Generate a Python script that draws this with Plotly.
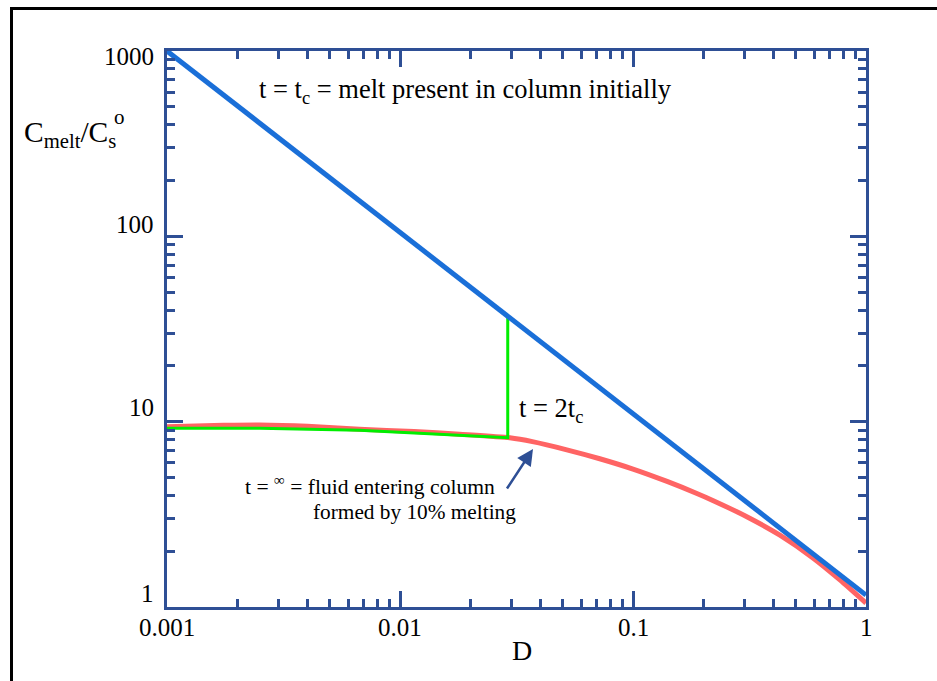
import numpy as np
import plotly.graph_objects as go

# ---------------- data ----------------
blue_D = [0.001, 1.0]
blue_C = [1000.0, 1.16]

red_D = [0.001, 0.00175, 0.0025, 0.004, 0.0067, 0.0115, 0.018, 0.0296, 0.037, 0.052,
         0.072, 0.1, 0.14, 0.188, 0.22, 0.308, 0.427, 0.592, 0.773, 1.0]
red_C = [9.40, 9.55, 9.60, 9.45, 9.10, 8.85, 8.55, 8.18, 7.80, 7.05,
         6.31, 5.55, 4.76, 4.10, 3.76, 3.07, 2.44, 1.84, 1.40, 1.05]

green_D = [0.001, 0.0025, 0.0067, 0.018, 0.029, 0.029]
green_C = [9.21, 9.21, 8.99, 8.48, 8.20, 36.5]

x_tick_vals = [0.001, 0.01, 0.1, 1]
x_tick_text = ["0.001", "0.01", "0.1", "1"]
y_tick_vals = [1, 10, 100, 1000]
y_tick_text = ["1", "10", "100", "1000"]

# ---------------- style ----------------
W, H = 937, 681
L, R, T, B = 167, 866, 51, 607
AX = "#2e4f95"
SERIF = "Liberation Serif"


def px(x):
    return (x - L) / (R - L)


def py(y):
    return (B - y) / (B - T)


minor_vals = [m * 10 ** e for e in range(-3, 3) for m in range(2, 10)]

fig = go.Figure()
fig.add_trace(go.Scatter(x=red_D, y=red_C, mode="lines",
                         line=dict(color="#ff6464", width=5, shape="spline", smoothing=0.6),
                         showlegend=False, hoverinfo="skip"))
fig.add_trace(go.Scatter(x=green_D, y=green_C, mode="lines", line=dict(color="#00ee00", width=3),
                         showlegend=False, hoverinfo="skip"))
fig.add_trace(go.Scatter(x=blue_D, y=blue_C, mode="lines",
                         line=dict(color="#1a6fd8", width=5),
                         showlegend=False, hoverinfo="skip"))

axis_common = dict(
    type="log", showgrid=False, zeroline=False, showticklabels=False,
    showline=True, linecolor=AX, linewidth=3, mirror="allticks",
    ticks="inside", ticklen=16, tickwidth=3, tickcolor=AX,
    minor=dict(ticks="inside", ticklen=8, tickwidth=3, tickcolor=AX,
               tickmode="array", tickvals=minor_vals, showgrid=False),
)

fig.update_xaxes(range=[-3, 0], tickmode="array", tickvals=x_tick_vals, **axis_common)
fig.update_yaxes(range=[0, 3], tickmode="array", tickvals=y_tick_vals, **axis_common)

tick_font = dict(family=SERIF, size=25, color="black")
annotations = []
y_label_shift = [14, 14, 12, -5]
for v, t, s in zip(y_tick_vals, y_tick_text, y_label_shift):
    annotations.append(dict(xref="paper", yref="y", x=px(156), y=np.log10(v), text=t,
                            xanchor="right", yanchor="middle", yshift=s, showarrow=False,
                            font=tick_font))
for v, t in zip(x_tick_vals, x_tick_text):
    annotations.append(dict(xref="x", yref="paper", x=np.log10(v), y=py(627), text=t,
                            xanchor="center", yanchor="middle", showarrow=False,
                            font=tick_font))

annotations += [
    dict(xref="paper", yref="paper", x=px(522), y=py(650), text="D", showarrow=False,
         xanchor="center", yanchor="middle", font=dict(family=SERIF, size=28, color="black")),
    dict(xref="paper", yref="paper", x=px(22), y=py(134), text="C<sub>melt</sub>/C<sub>s</sub>",
         showarrow=False, xanchor="left", yanchor="middle",
         font=dict(family=SERIF, size=29.5, color="black")),
    dict(xref="paper", yref="paper", x=px(119), y=py(117), text="o",
         showarrow=False, xanchor="center", yanchor="middle",
         font=dict(family=SERIF, size=21, color="black")),
    dict(xref="paper", yref="paper", x=px(257), y=py(91),
         text="t = t<sub>c</sub> = melt present in column initially",
         showarrow=False, xanchor="left", yanchor="middle",
         font=dict(family=SERIF, size=26.5, color="black")),
    dict(xref="paper", yref="paper", x=px(517), y=py(410), text="t = 2t<sub>c</sub>",
         showarrow=False, xanchor="left", yanchor="middle",
         font=dict(family=SERIF, size=26.5, color="black")),
    dict(xref="paper", yref="paper", x=px(243), y=py(485),
         text="t = <sup>∞</sup> = fluid entering column",
         showarrow=False, xanchor="left", yanchor="middle",
         font=dict(family=SERIF, size=21.6, color="black")),
    dict(xref="paper", yref="paper", x=px(311), y=py(512), text="formed by 10% melting",
         showarrow=False, xanchor="left", yanchor="middle",
         font=dict(family=SERIF, size=21.3, color="black")),
    dict(xref="paper", yref="paper", x=px(533), y=py(449), text="", showarrow=True,
         ax=-27, ay=41, arrowhead=2, arrowsize=1.3, arrowwidth=2.5, arrowcolor=AX),
]

fig.update_layout(
    width=W, height=H,
    margin=dict(l=L, r=W - R, t=T, b=H - B, pad=0),
    paper_bgcolor="white", plot_bgcolor="white",
    annotations=annotations,
    shapes=[dict(type="rect", xref="paper", yref="paper",
                 x0=px(11.5), y0=py(700), x1=px(960), y1=py(8.5),
                 line=dict(color="black", width=3), layer="above")],
)

fig.write_html("out.html", config={"displayModeBar": False},
               post_script="document.body.style.margin='0px';")
